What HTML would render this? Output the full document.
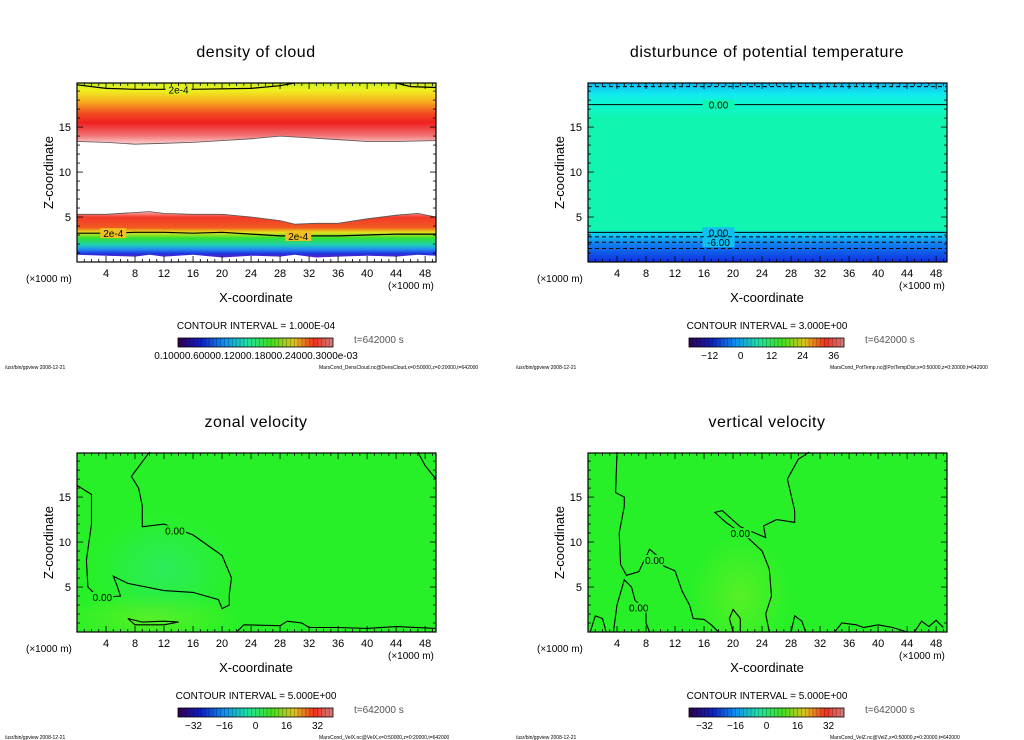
<!DOCTYPE html>
<html><head><meta charset="utf-8"><style>
body{margin:0;background:#fff;width:1024px;height:740px;overflow:hidden}
svg{display:block;font-family:"Liberation Sans","DejaVu Sans",sans-serif}
</style></head><body>
<svg id="chart" width="1024" height="740" viewBox="0 0 1024 740" xmlns="http://www.w3.org/2000/svg">
<defs>
<linearGradient id="gLow" x1="0" y1="0" x2="0" y2="1">
<stop offset="0" stop-color="#ffb0b0"/><stop offset="0.12" stop-color="#f23a2a"/><stop offset="0.35" stop-color="#f25a20"/><stop offset="0.45" stop-color="#e8e020"/><stop offset="0.58" stop-color="#30e030"/><stop offset="0.72" stop-color="#20d0b0"/><stop offset="0.82" stop-color="#2090f0"/><stop offset="0.92" stop-color="#2030e0"/><stop offset="1" stop-color="#6020c0"/>
</linearGradient>
<linearGradient id="gHigh" x1="0" y1="0" x2="0" y2="1">
<stop offset="0" stop-color="#c8f020"/><stop offset="0.12" stop-color="#f0f020"/><stop offset="0.3" stop-color="#f8b020"/><stop offset="0.5" stop-color="#f04a20"/><stop offset="0.65" stop-color="#f02020"/><stop offset="0.85" stop-color="#f07070"/><stop offset="1" stop-color="#ffd0d0"/>
</linearGradient>
<linearGradient id="gTemp" x1="0" y1="0" x2="0" y2="1">
<stop offset="0" stop-color="#10b8f0"/><stop offset="0.06" stop-color="#10e8f0"/><stop offset="0.12" stop-color="#10f8d0"/><stop offset="0.2" stop-color="#10f5b0"/><stop offset="0.82" stop-color="#10f5b0"/><stop offset="0.84" stop-color="#10d0f0"/><stop offset="0.9" stop-color="#1080f0"/><stop offset="1" stop-color="#1030e0"/>
</linearGradient>
<linearGradient id="cbar" x1="0" y1="0" x2="1" y2="0">
<stop offset="0" stop-color="#300050"/><stop offset="0.15" stop-color="#1020c0"/><stop offset="0.3" stop-color="#1090f0"/><stop offset="0.45" stop-color="#20e0a0"/><stop offset="0.6" stop-color="#40e020"/><stop offset="0.75" stop-color="#e0c020"/><stop offset="0.88" stop-color="#f03020"/><stop offset="1" stop-color="#d08080"/>
</linearGradient>
<radialGradient id="gBlue" cx="0.5" cy="0.5" r="0.5"><stop offset="0" stop-color="#30e890" stop-opacity="0.5"/><stop offset="1" stop-color="#30e890" stop-opacity="0"/></radialGradient>
<radialGradient id="gYel" cx="0.5" cy="0.5" r="0.5"><stop offset="0" stop-color="#b0f020" stop-opacity="0.35"/><stop offset="1" stop-color="#b0f020" stop-opacity="0"/></radialGradient>
<clipPath id="clipBL"><rect x="77" y="453" width="359" height="179"/></clipPath>
<clipPath id="clipBR"><rect x="588" y="453" width="359" height="179"/></clipPath>
</defs>
<g id="root"></g>
</svg>
<script>
// ---- data ----
const xTicks=[4,8,12,16,20,24,28,32,36,40,44,48];
const zTicks=[5,10,15];
const cbLabelsTL=["0.10000.60000.12000.18000.24000.3000e-03"];
const cbLabelsTR=[-12,0,12,24,36];
const cbLabelsB=[-32,-16,0,16,32];
const cbValsTR=[-12,0,12,24,36];const cbRangeTR=[-20,40];
const cbValsB=[-32,-16,0,16,32];const cbRangeB=[-40,40];
const lowTopX=[0,4,8,10,12,16,20,24,28,30,33,36,40,44,47,49.5];
const lowTopZ=[5.3,5.3,5.5,5.6,5.4,5.3,5.3,5.0,4.6,4.2,4.3,4.3,4.8,5.2,5.4,5.0];
const lowBotZ=[0.8,0.7,0.6,0.8,0.6,0.8,0.5,0.7,0.6,0.8,0.5,0.6,0.7,0.6,0.8,0.7];
const highBotX=[0,4,8,12,16,20,24,28,32,36,40,44,49.5];
const highBotZ=[13.4,13.3,13.1,13.2,13.3,13.5,13.7,14.0,13.8,13.6,13.4,13.4,13.5];
const denContours=[
 {pts:[[0,3.2],[4,3.2],[8,3.3],[12,3.3],[16,3.2],[20,3.3],[24,3.1],[28,2.9],[32,2.9],[36,2.9],[40,3.0],[44,3.1],[49.5,3.1]],label:"2e-4",lx:[[5,3.2],[30.5,2.9]]},
 {pts:[[0,19.7],[4,19.3],[8,19.2],[16,19.2],[24,19.3],[28,19.6],[30,19.9]],label:"2e-4",lx:[[14,19.2]]},
 {pts:[[44,19.9],[46,19.5],[49.5,19.4]],label:null,lx:[]}
];
const tempLines=[
 {z:17.5,dash:false,label:"0.00"},{z:19.5,dash:true,label:null},
 {z:3.3,dash:false,label:"0.00"},{z:2.8,dash:true,label:null},{z:2.2,dash:true,label:"-6.00"},{z:1.5,dash:true,label:null}
];
const uContours=[
 {pts:[[0,16.3],[2,15.3],[2,12],[1.3,8],[1.5,5],[2.5,4.2],[4.5,3.9],[6,4.0],[5.5,5.2],[5,6.2],[7,5.4],[12,4.6],[16,4.4],[19.5,3.6],[20,2.6],[21,3.0],[21,4.2],[21.3,6.0],[20,8.5],[16,10.8],[12,12.0],[9,11.7],[9,14],[8.5,16],[7.5,17.3],[10,20]],labels:[[3.5,3.9],[13.5,11.3]]},
 {pts:[[47,20],[48,18.5],[49.5,17]],labels:[]},
 {pts:[[22,0],[23,0.8],[28,0.7],[29,1.2],[31,1.0],[32,0.5],[36,0.5],[40,0.4],[44,0.6],[49.5,0.4]],labels:[]},
 {pts:[[7,1.5],[9,1.1],[12,1.2],[14,1.1],[12,0.8],[8,0.8],[7,1.5]],labels:[]}
];
const wContours=[
 {pts:[[4,20],[3.8,15.5],[5,15],[5,14],[4.3,11],[4.5,7.5],[5.3,6.3],[7,6.7],[8.5,9.2],[9.5,8.5],[10.5,7.3],[12,6.8],[13,4.5],[14,3],[14.5,1.5],[16,1.4],[17,0.8],[18,0]],labels:[[9.2,8]]},
 {pts:[[0.3,0],[1,1.8],[2,1.5],[2.5,0]],labels:[]},
 {pts:[[3.5,0],[4,3],[5,5.8],[6,5],[6.5,3.5],[8,2.5],[8,1],[8.5,0]],labels:[[7,2.7]]},
 {pts:[[30.5,20],[29,19.2],[27.5,17],[28.5,13.5],[28.5,12.2],[26,12.5],[24.2,11.8],[24.5,10.5],[21,11.7],[18.5,13.5],[17.5,13.3],[19,12.2],[22,10.5],[24,9],[25,7],[25.3,4],[24.5,2],[25,0]],labels:[[21,11]]},
 {pts:[[20,0],[19.5,1.5],[20,2.5],[21,1.5],[21,0]],labels:[]},
 {pts:[[28,0],[28.5,1.8],[29.5,1.2],[30,0]],labels:[]},
 {pts:[[34,0],[35,1],[37,0.8],[38,0.5],[40,0.8],[42,0.5],[44,0]],labels:[]},
 {pts:[[45,0],[46,1.2],[47,0.6],[48,1.3],[49,0.5]],labels:[]}
];
// ---- drawing ----
const NS="http://www.w3.org/2000/svg";
const root=document.getElementById('root');
function mk(tag,attrs,parent){const e=document.createElementNS(NS,tag);for(const k in attrs)e.setAttribute(k,attrs[k]);(parent||root).appendChild(e);return e;}
const panels=[
 {id:"density",x0:77,y0:83,y1:262,title:"density of cloud",ci:"CONTOUR INTERVAL = 1.000E-04",foot:"MarsCond_DensCloud.nc@DensCloud,x=0:50000,z=0:20000,t=642000"},
 {id:"pottemp",x0:588,y0:83,y1:262,title:"disturbunce of potential temperature",ci:"CONTOUR INTERVAL = 3.000E+00",foot:"MarsCond_PotTemp.nc@PotTempDist,x=0:50000,z=0:20000,t=642000"},
 {id:"zonal",x0:77,y0:453,y1:632,title:"zonal velocity",ci:"CONTOUR INTERVAL = 5.000E+00",foot:"MarsCond_VelX.nc@VelX,x=0:50000,z=0:20000,t=642000"},
 {id:"vertical",x0:588,y0:453,y1:632,title:"vertical velocity",ci:"CONTOUR INTERVAL = 5.000E+00",foot:"MarsCond_VelZ.nc@VelZ,x=0:50000,z=0:20000,t=642000"}
];
const XMAX=49.5, ZMAX=19.9, W=359;
function sx(p,x){return p.x0+x/XMAX*W;}
function sz(p,z){return p.y1-z/ZMAX*(p.y1-p.y0);}
function path(p,pts){return pts.map((q,i)=>(i?'L':'M')+sx(p,q[0]).toFixed(1)+','+sz(p,q[1]).toFixed(1)).join(' ');}
function txt(s,x,y,size,anchor,g,name){const t=mk('text',{x:x,y:y,'font-size':size,'text-anchor':anchor||'start',fill:'#000'},g);t.textContent=s;

return t;}

panels.forEach((p,pi)=>{
 const g=mk('g',{});
 
 
 const H=p.y1-p.y0;
 if(pi===0){
  const bg=mk('rect',{x:p.x0,y:p.y0,width:W,height:H,fill:'#fff'},g);
  
  const hi=mk('path',{d:path(p,[[0,ZMAX]].concat(highBotX.map((x,i)=>[x,highBotZ[i]])).concat([[XMAX,ZMAX]]))+'Z',fill:'url(#gHigh)'},g);
  
  const top=lowTopX.map((x,i)=>[x,lowTopZ[i]]);const bot=lowTopX.map((x,i)=>[x,lowBotZ[i]]).reverse();
  const lo=mk('path',{d:path(p,top.concat(bot))+'Z',fill:'url(#gLow)'},g);
  
  mk('path',{d:path(p,highBotX.map((x,i)=>[x,highBotZ[i]])),stroke:'#555',fill:'none','stroke-width':0.8},g);
  mk('path',{d:path(p,top),stroke:'#555',fill:'none','stroke-width':0.8},g);
  denContours.forEach(c=>{const e=mk('path',{d:path(p,c.pts),stroke:'#000',fill:'none','stroke-width':1.2},g);
   
   c.lx.forEach(l=>{const X=sx(p,l[0]),Y=sz(p,l[1]);mk('rect',{x:X-13,y:Y-5,width:26,height:10,fill:l[1]>10?'#e0f020':'#f0c020'},g);txt(c.label,X,Y+4,10,'middle',g,'contour-label');});});
 } else if(pi===1){
  const bg=mk('rect',{x:p.x0,y:p.y0,width:W,height:H,fill:'url(#gTemp)'},g);
  
  tempLines.forEach(l=>{const Y=sz(p,l.z);const e=mk('line',{x1:p.x0,x2:p.x0+W,y1:Y,y2:Y,stroke:'#000','stroke-width':1,'stroke-dasharray':l.dash?'4,3':'none'},g);
   
   if(l.label){const X=sx(p,18);mk('rect',{x:X-16,y:Y-5,width:32,height:10,fill:l.z>10?'#10f5b0':'#10c0f0'},g);txt(l.label,X,Y+4,10,'middle',g,'contour-label');}});
 } else {
  const bg=mk('rect',{x:p.x0,y:p.y0,width:W,height:H,fill:'#28f028'},g);
  
  const cg=mk('g',{'clip-path':pi===2?'url(#clipBL)':'url(#clipBR)'},g);
  if(pi===2){mk('ellipse',{cx:sx(p,12),cy:sz(p,7),rx:70,ry:55,fill:'url(#gBlue)'},cg);mk('ellipse',{cx:sx(p,10),cy:sz(p,1.5),rx:90,ry:25,fill:'url(#gYel)'},cg);}
  else {mk('ellipse',{cx:sx(p,21),cy:sz(p,4),rx:50,ry:60,fill:'url(#gYel)'},cg);}
  const cs=pi===2?uContours:wContours;
  cs.forEach(c=>{const e=mk('path',{d:path(p,c.pts),stroke:'#000',fill:'none','stroke-width':1.1},g);
   
   c.labels.forEach(l=>{const X=sx(p,l[0]),Y=sz(p,l[1]);mk('rect',{x:X-11,y:Y-5,width:22,height:10,fill:'#28f028'},g);txt('0.00',X,Y+4,10,'middle',g,'contour-label');});});
 }
 const fr=mk('rect',{x:p.x0,y:p.y0,width:W,height:H,fill:'none',stroke:'#000','stroke-width':1.2},g);
 
 for(let k=1;k<XMAX;k++){const X=sx(p,k);const len=k%4===0?6:3;
  mk('line',{x1:X,x2:X,y1:p.y1,y2:p.y1-len,stroke:'#000','stroke-width':0.8},g);
  mk('line',{x1:X,x2:X,y1:p.y0,y2:p.y0+len,stroke:'#000','stroke-width':0.8},g);}
 for(let k=1;k<ZMAX;k++){const Y=sz(p,k);const len=k%5===0?6:3;
  mk('line',{x1:p.x0,x2:p.x0+len,y1:Y,y2:Y,stroke:'#000','stroke-width':0.8},g);
  mk('line',{x1:p.x0+W,x2:p.x0+W-len,y1:Y,y2:Y,stroke:'#000','stroke-width':0.8},g);}
 xTicks.forEach(v=>txt(String(v),sx(p,v),p.y1+15,11,'middle',g,'x-tick-label'));
 zTicks.forEach(v=>txt(String(v),p.x0-6,sz(p,v)+4,11,'end',g,'z-tick-label'));
 txt(p.title,p.x0+179,p.y0-26,16,'middle',g,'panel-title').setAttribute('letter-spacing','0.5');
 const yl=txt('Z-coordinate',0,0,13,'middle',g,'z-axis-title');yl.setAttribute('transform','translate('+(p.x0-24)+','+((p.y0+p.y1)/2)+') rotate(-90)');
 txt('X-coordinate',p.x0+179,p.y1+40,13,'middle',g,'x-axis-title');
 txt('(\u00d71000 m)',p.x0-51,p.y1+20,10,'start',g,'x-unit-left');
 txt('(\u00d71000 m)',p.x0+311,p.y1+27,10,'start',g,'x-unit-right');
 txt(p.ci,p.x0+179,p.y1+67,10,'middle',g,'contour-interval');
 const cb=mk('rect',{x:p.x0+101,y:p.y1+76,width:155,height:9,fill:'url(#cbar)',stroke:'#000','stroke-width':0.8},g);
 
 for(let k=1;k<40;k++)mk('line',{x1:p.x0+101+k*155/40,x2:p.x0+101+k*155/40,y1:p.y1+76,y2:p.y1+85,stroke:'#000','stroke-opacity':0.35,'stroke-width':0.6},g);
 txt('t=642000 s',p.x0+277,p.y1+81,10,'start',g,'time-label').setAttribute('fill','#555');
 if(pi===0){txt(cbLabelsTL[0],p.x0+179,p.y1+97,10,'middle',g,'colorbar-labels');}
 else{const vals=pi===1?cbValsTR:cbValsB;const rg=pi===1?cbRangeTR:cbRangeB;const labs=pi===1?cbLabelsTR:cbLabelsB;
  vals.forEach((v,i)=>txt(String(labs[i]).replace('-','\u2212'),p.x0+101+(v-rg[0])/(rg[1]-rg[0])*155,p.y1+97,10,'middle',g,'colorbar-tick'));}
 txt('/usr/bin/gpview   2008-12-21',p.x0-72,p.y1+107,5,'start',g,'footer-left');
 txt(p.foot,p.x0+242,p.y1+107,5,'start',g,'footer-right');
});
</script>
</body></html>
